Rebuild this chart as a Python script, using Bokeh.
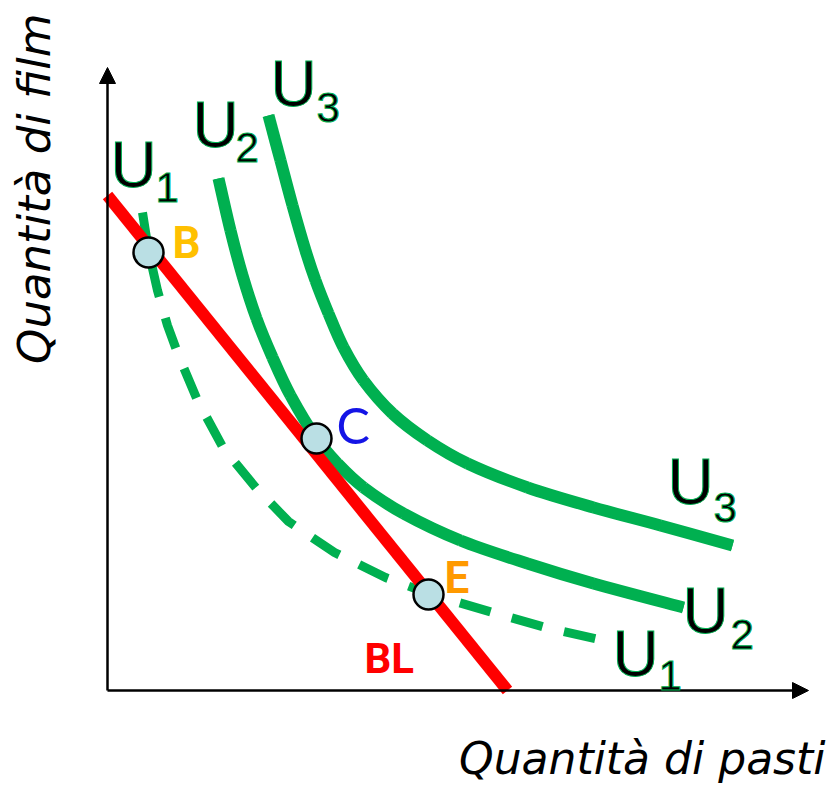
from bokeh.plotting import figure
from bokeh.models import Range1d, Label, Arrow, NormalHead
from bokeh.embed import file_html
from bokeh.resources import INLINE
import math

# ---- data (chart units: origin at the axes corner) ----
u1_x = [3.5, 4.1, 5.0, 6.0, 7.1, 9.0, 11.6, 14.9, 18.1, 22.7, 27.8, 32.1, 38.5, 43.8, 50.1]
u1_y = [47.8, 44.0, 40.0, 36.5, 33.5, 29.0, 24.2, 20.2, 16.9, 13.8, 11.3, 9.7, 7.8, 6.3, 4.9]

u2_x = [11.1, 12.3, 13.5, 14.9, 16.5, 18.3, 20.9, 23.0, 25.6, 29.6, 35.3, 42.0, 48.6, 57.6]
u2_y = [51.2, 46.0, 41.5, 37.2, 33.3, 29.5, 25.2, 22.7, 20.3, 17.7, 15.0, 12.7, 10.7, 8.3]

u3_x = [16.1, 17.3, 18.5, 19.8, 20.8, 22.1, 23.6, 25.6, 28.5, 32.0, 36.0, 42.0, 48.6, 55.3, 62.5]
u3_y = [57.5, 53.0, 48.5, 44.0, 41.0, 37.7, 34.3, 31.0, 27.7, 25.0, 22.7, 20.3, 18.3, 16.5, 14.5]

bl_x = [0.0, 40.0]
bl_y = [49.5, 0.0]

pt_names = ["B", "C", "E"]
pt_x = [4.1, 20.9, 32.1]
pt_y = [43.8, 25.2, 9.6]

x_axis_max = 70.1
y_axis_max = 62.3

x_label = "Quantità di pasti"
y_label = "Quantità di film"

GREEN = "#00B050"

p = figure(width=834, height=785, output_backend="svg", toolbar_location=None,
           x_range=Range1d(-10.7, 72.7), y_range=Range1d(-9.5, 69.0),
           x_axis_type=None, y_axis_type=None, min_border=0)
p.grid.visible = False
p.outline_line_color = None
p.background_fill_color = "white"
p.border_fill_color = "white"

# axes with arrows
for xe, ye in [(0, y_axis_max), (x_axis_max, 0)]:
    p.add_layout(Arrow(x_start=0, y_start=0, x_end=xe, y_end=ye, line_width=2.5, line_color="black",
                       end=NormalHead(size=16, fill_color="black", line_color="black")))


def smooth_curve(xs, ys, color, width):
    """Draw a smooth curve passing through the given points (cubic Bezier segments,
    Catmull-Rom tangents); a slightly thinner polyline underneath hides the seams."""
    p.line(xs, ys, line_color=color, line_width=width - 3, line_join="round")
    n = len(xs)
    x0, y0, x1, y1, cx0, cy0, cx1, cy1 = [], [], [], [], [], [], [], []
    for i in range(n - 1):
        ip, inn = max(i - 1, 0), min(i + 2, n - 1)
        x0.append(xs[i]); y0.append(ys[i]); x1.append(xs[i + 1]); y1.append(ys[i + 1])
        cx0.append(xs[i] + (xs[i + 1] - xs[ip]) / 6.0)
        cy0.append(ys[i] + (ys[i + 1] - ys[ip]) / 6.0)
        cx1.append(xs[i + 1] - (xs[inn] - xs[i]) / 6.0)
        cy1.append(ys[i + 1] - (ys[inn] - ys[i]) / 6.0)
    p.bezier(x0=x0, y0=y0, x1=x1, y1=y1, cx0=cx0, cy0=cy0, cx1=cx1, cy1=cy1,
             line_color=color, line_width=width, line_cap="butt")


# indifference curves
p.line(u1_x, u1_y, line_color=GREEN, line_width=9, line_dash="32 22", line_cap="butt", line_join="round")
smooth_curve(u2_x, u2_y, GREEN, 12)
smooth_curve(u3_x, u3_y, GREEN, 12)

# budget line
p.line(bl_x, bl_y, line_color="#FF0000", line_width=12, line_cap="butt")

# points
p.scatter(pt_x, pt_y, size=30, fill_color="#BADFE4", line_color="black", line_width=2.5)

BASE = 0.36  # shift so the glyph baseline lands where intended


def lab(x, y, text, dx, dy, size, color, font, style="normal", align="left", angle=0.0, outline=None):
    kw = {}
    if outline:
        kw["text_outline_color"] = outline
    if angle == 0.0:
        dy = dy + BASE * size
    else:
        dx = dx - BASE * size
    p.add_layout(Label(x=x, y=y, text=text, x_offset=dx, y_offset=dy,
                       text_font_size=f"{size}px", text_color=color, text_font=font,
                       text_font_style=style, text_align=align, text_baseline="alphabetic",
                       angle=angle, **kw))


UF = "Liberation Sans"
curve_labels = [
    (u1_x[0], u1_y[0], "1", (-32, 24), (13, 10)),
    (u2_x[0], u2_y[0], "2", (-26, 30), (17, 16)),
    (u3_x[0], u3_y[0], "3", (2, 8), (48, -7)),
    (u3_x[-1], u3_y[-1], "3", (-65, 40), (-19, 23)),
    (u2_x[-1], u2_y[-1], "2", (-1, -27), (47, -42)),
    (u1_x[-1], u1_y[-1], "1", (4, -36), (50, -49)),
]
for cx, cy, sub, (ux, uy), (sx, sy) in curve_labels:
    lab(cx, cy, "U", ux, uy, 64, "black", UF, outline=GREEN)
    lab(cx, cy, sub, sx, sy, 42, "black", UF, outline=GREEN)

# point labels
lab(pt_x[0], pt_y[0], "B", 24, -6, 44, "#FFC000", "Roboto", "bold")
lab(pt_x[1], pt_y[1], "C", 20, -4, 50, "#1414E6", "Lato")
lab(pt_x[2], pt_y[2], "E", 16, 1, 44, "#FF9900", "Roboto", "bold")
lab(bl_x[1], bl_y[1], "BL", -143, 17, 42, "#FF0000", "Roboto", "bold")

# axis titles
lab(x_axis_max, 0, x_label, 17, -84, 44, "black", "DejaVu Sans", "italic", align="right")
lab(0, y_axis_max, y_label, -57, 54, 45, "black", "DejaVu Sans", "italic", align="right", angle=math.pi / 2)

open("out.html", "w").write(file_html(p, INLINE))
